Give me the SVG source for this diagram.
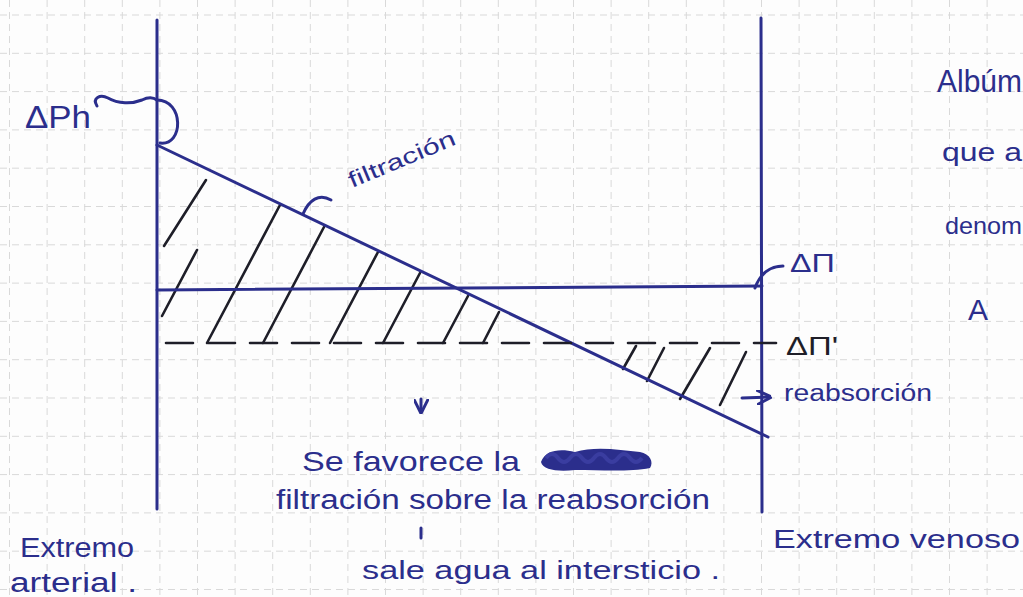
<svg xmlns="http://www.w3.org/2000/svg" width="1023" height="597" viewBox="0 0 1023 597">
<style>
.grid line{stroke:#d9d9d9;stroke-width:1;stroke-dasharray:7 5}
.ink{stroke:#2b2e8c;stroke-width:3;fill:none;stroke-linecap:round;stroke-linejoin:round}
.hatch{stroke:#1e1e28;stroke-width:2.6;fill:none;stroke-linecap:round}
.t{font-family:"Liberation Sans","DejaVu Sans",sans-serif;fill:#2b2e8c}
.tb{font-family:"Liberation Sans","DejaVu Sans",sans-serif;fill:#1e1e28}
</style>
<defs>
<marker id="ah" viewBox="0 0 10 10" refX="9" refY="5" markerWidth="5" markerHeight="5" orient="auto">
<path d="M0,0 L10,5 L0,10" fill="none" stroke="#2b2e8c" stroke-width="2"/>
</marker>
</defs>
<rect width="1023" height="597" fill="#fdfdfd"/>
<g class="grid">
<line x1="9.5" y1="0" x2="9.5" y2="597"/><line x1="47.1" y1="0" x2="47.1" y2="597"/><line x1="84.7" y1="0" x2="84.7" y2="597"/><line x1="122.3" y1="0" x2="122.3" y2="597"/><line x1="159.9" y1="0" x2="159.9" y2="597"/><line x1="197.5" y1="0" x2="197.5" y2="597"/><line x1="235.1" y1="0" x2="235.1" y2="597"/><line x1="272.7" y1="0" x2="272.7" y2="597"/><line x1="310.3" y1="0" x2="310.3" y2="597"/><line x1="347.9" y1="0" x2="347.9" y2="597"/><line x1="385.5" y1="0" x2="385.5" y2="597"/><line x1="423.1" y1="0" x2="423.1" y2="597"/><line x1="460.7" y1="0" x2="460.7" y2="597"/><line x1="498.3" y1="0" x2="498.3" y2="597"/><line x1="535.9" y1="0" x2="535.9" y2="597"/><line x1="573.5" y1="0" x2="573.5" y2="597"/><line x1="611.1" y1="0" x2="611.1" y2="597"/><line x1="648.7" y1="0" x2="648.7" y2="597"/><line x1="686.3" y1="0" x2="686.3" y2="597"/><line x1="723.9" y1="0" x2="723.9" y2="597"/><line x1="761.5" y1="0" x2="761.5" y2="597"/><line x1="799.1" y1="0" x2="799.1" y2="597"/><line x1="836.7" y1="0" x2="836.7" y2="597"/><line x1="874.3" y1="0" x2="874.3" y2="597"/><line x1="911.9" y1="0" x2="911.9" y2="597"/><line x1="949.5" y1="0" x2="949.5" y2="597"/><line x1="987.1" y1="0" x2="987.1" y2="597"/>
<line x1="0" y1="15" x2="1023" y2="15"/><line x1="0" y1="53.3" x2="1023" y2="53.3"/><line x1="0" y1="91.6" x2="1023" y2="91.6"/><line x1="0" y1="129.9" x2="1023" y2="129.9"/><line x1="0" y1="168.2" x2="1023" y2="168.2"/><line x1="0" y1="206.5" x2="1023" y2="206.5"/><line x1="0" y1="244.8" x2="1023" y2="244.8"/><line x1="0" y1="283.1" x2="1023" y2="283.1"/><line x1="0" y1="321.4" x2="1023" y2="321.4"/><line x1="0" y1="359.7" x2="1023" y2="359.7"/><line x1="0" y1="398" x2="1023" y2="398"/><line x1="0" y1="436.3" x2="1023" y2="436.3"/><line x1="0" y1="474.6" x2="1023" y2="474.6"/><line x1="0" y1="512.9" x2="1023" y2="512.9"/><line x1="0" y1="551.2" x2="1023" y2="551.2"/><line x1="0" y1="589.5" x2="1023" y2="589.5"/>
</g>
<g id="hatching">
<line class="hatch" x1="164" y1="246" x2="206" y2="180"/>
<line class="hatch" x1="162" y1="316" x2="197" y2="250"/>
<line class="hatch" x1="207" y1="343" x2="280" y2="205"/>
<line class="hatch" x1="263" y1="343" x2="324" y2="227"/>
<line class="hatch" x1="330" y1="343" x2="378" y2="252"/>
<line class="hatch" x1="383" y1="343" x2="420" y2="273"/>
<line class="hatch" x1="443" y1="343" x2="468" y2="296"/>
<line class="hatch" x1="483" y1="343" x2="499" y2="312"/>
<line class="hatch" x1="623" y1="369" x2="636" y2="346"/>
<line class="hatch" x1="647" y1="381" x2="664" y2="348"/>
<line class="hatch" x1="680" y1="399" x2="710" y2="348"/>
<line class="hatch" x1="720" y1="405" x2="746" y2="352"/>
</g>
<g id="connectors">
<line class="ink" x1="157" y1="20" x2="157" y2="509"/>
<line class="ink" x1="761" y1="18" x2="762" y2="512"/>
<line class="ink" x1="157" y1="145" x2="768" y2="437"/>
<line class="ink" x1="157" y1="290" x2="762" y2="286"/>
<line class="hatch" x1="166" y1="343" x2="776" y2="343" stroke-dasharray="27 15"/>
<path class="ink" d="M97,106 C92,98 100,94 108,98 C118,104 132,104 142,100 C148,97 153,97 157,100"/>
<path class="ink" d="M157,100 C184,100 184,146 160,143"/>
<path class="ink" d="M303,214 C309,200 319,193 331,200"/>
<path class="ink" d="M755,288 C760,274 770,266 783,266"/>
<line class="ink" x1="742" y1="398" x2="770" y2="397" marker-end="url(#ah)"/>
<line class="ink" x1="421" y1="399" x2="421" y2="412" marker-end="url(#ah)" stroke-width="2"/>
<line class="ink" x1="421" y1="528" x2="421" y2="538" stroke-width="2.5"/>
</g>
<g id="labels">
<text class="t" x="25" y="128" font-size="32" textLength="66" lengthAdjust="spacingAndGlyphs">ΔPh</text>
<text class="t" font-size="22" textLength="114" lengthAdjust="spacingAndGlyphs" transform="translate(352,188) rotate(-22.7)">filtración</text>
<text class="t" x="790" y="272" font-size="25" textLength="45" lengthAdjust="spacingAndGlyphs">ΔΠ</text>
<text class="tb" x="786" y="355" font-size="25" textLength="52" lengthAdjust="spacingAndGlyphs">ΔΠ'</text>
<text class="t" x="784" y="401" font-size="23" textLength="148" lengthAdjust="spacingAndGlyphs">reabsorción</text>
<text class="t" x="937" y="92" font-size="31" textLength="85" lengthAdjust="spacingAndGlyphs">Albúm</text>
<text class="t" x="942" y="161" font-size="26" textLength="80" lengthAdjust="spacingAndGlyphs">que a</text>
<text class="t" x="945" y="234" font-size="24" textLength="77" lengthAdjust="spacingAndGlyphs">denom</text>
<text class="t" x="968" y="320" font-size="30">A</text>
<text class="t" x="302" y="471" font-size="28" textLength="218" lengthAdjust="spacingAndGlyphs">Se  favorece la</text>
<path d="M541,462 C545,450 560,448 575,452 C595,446 620,450 640,452 C650,454 654,462 650,468 C630,472 600,470 575,470 C558,472 543,470 541,462 Z" fill="#2b2e8c"/>
<path d="M546,458 q6,-8 12,0 q6,8 12,0 q6,-8 12,0 q6,8 12,0 q6,-8 12,0 q6,8 12,0 q6,-8 12,0 q6,8 12,0" fill="none" stroke="#3a3da0" stroke-width="4"/>
<text class="t" x="276" y="509" font-size="27" textLength="434" lengthAdjust="spacingAndGlyphs">filtración  sobre la reabsorción</text>
<text class="t" x="362" y="579" font-size="26" textLength="358" lengthAdjust="spacingAndGlyphs">sale agua al intersticio .</text>
<text class="t" x="20" y="557" font-size="27" textLength="114" lengthAdjust="spacingAndGlyphs">Extremo</text>
<text class="t" x="10" y="592" font-size="27" textLength="127" lengthAdjust="spacingAndGlyphs">arterial .</text>
<text class="t" x="773" y="548" font-size="25" textLength="247" lengthAdjust="spacingAndGlyphs">Extremo venoso</text>
</g>
</svg>
